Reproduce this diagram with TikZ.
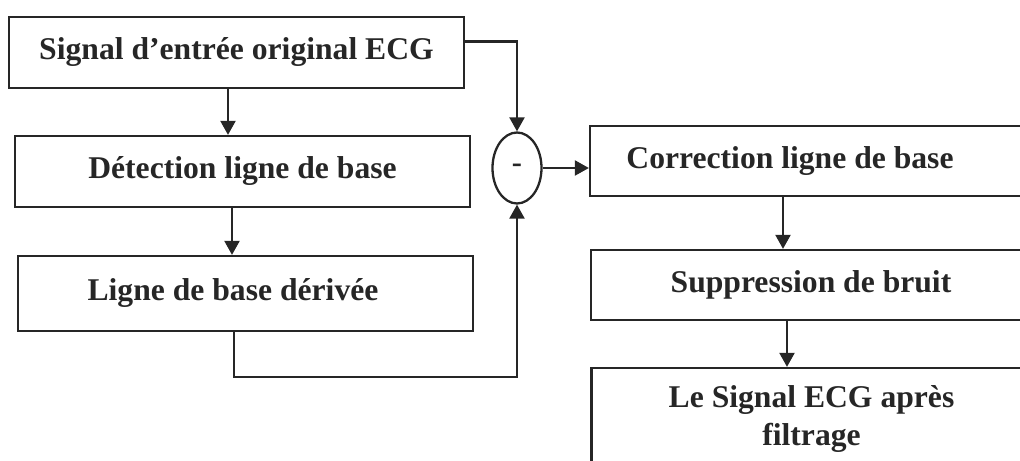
\documentclass[tikz,border=0pt]{standalone}
\usepackage{fontspec}
\setmainfont{Liberation Serif}
\usetikzlibrary{arrows.meta, shapes.geometric}

\begin{document}
\begin{tikzpicture}[
	bloc/.style={draw=black!85, line width=1.3pt, shape=rectangle, minimum width=9.1cm, minimum height=1.42cm, align=center, text=black!85, font=\bfseries\fontsize{18}{22}\selectfont},
	fleche/.style={draw=black!85, line width=1.3pt, -{Triangle[length=2.8mm, width=3mm]}}]
	\clip (0,0) rectangle (20.4,-9.22);
	% Blocs, soustracteur et fils:
	\node[bloc](B1) at (4.73, -1.05){Signal d’entrée original ECG};
	\node[bloc](B2) at (4.85, -3.43){Détection ligne de base};
	\node[bloc, minimum height=1.5cm](B3) at (4.91, -5.87){Ligne de base dérivée\hspace*{0.5cm}};
	\node[draw=black!85, line width=1.3pt, shape=ellipse, minimum width=0.98cm, minimum height=1.42cm, inner sep=0pt, text=black!85, font=\bfseries\LARGE](S) at (10.34, -3.36){-};
	\node[bloc, minimum width=8.8cm, minimum height=1.4cm](B4) at (16.2, -3.22){Correction ligne de base\hspace*{0.8cm}};
	\node[bloc, minimum width=8.8cm, minimum height=1.4cm](B5) at (16.22, -5.7){Suppression de bruit};
	\node[bloc, minimum width=8.8cm, minimum height=2.04cm](B6) at (16.23, -8.38){Le Signal ECG après\\filtrage};
	\draw[fleche] ([xshift=-1.7mm]B1.south) -- ([xshift=-1.7mm]B1.south |- B2.north);
	\draw[fleche] ([xshift=-2.1mm]B2.south) -- ([xshift=-2.1mm]B2.south |- B3.north);
	\draw[fleche] ([yshift=2.2mm]B1.east) -| (S.north);
	\draw[fleche] ([xshift=-2.3mm]B3.south) -- ++(0,-0.9) -| (S.south);
	\draw[fleche] (S.east) -- (S.east -| B4.west);
	\draw[fleche] ([xshift=-5.4mm]B4.south) -- ([xshift=-5.4mm]B4.south |- B5.north);
	\draw[fleche] ([xshift=-4.8mm]B5.south) -- ([xshift=-4.8mm]B5.south |- B6.north);
\end{tikzpicture}
\end{document}
